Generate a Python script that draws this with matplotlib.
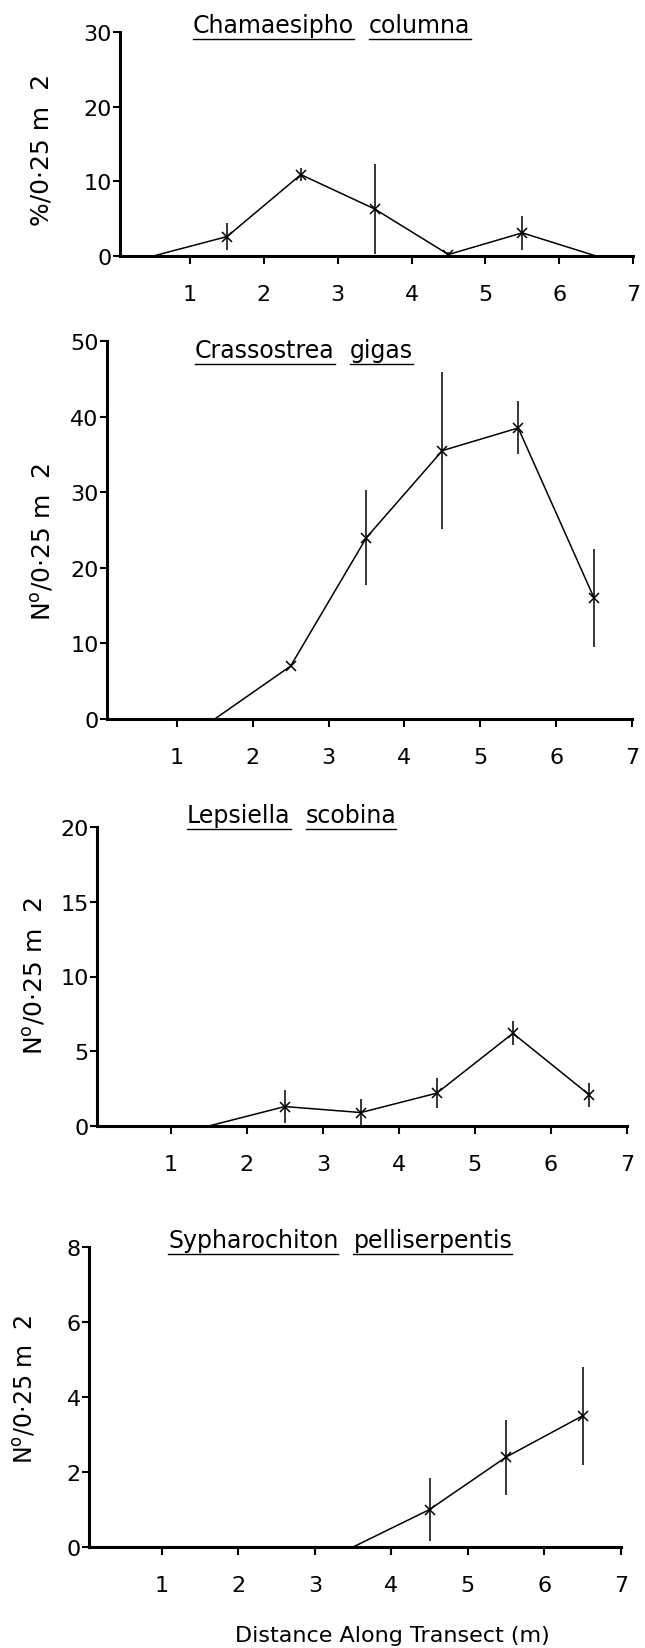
import matplotlib
matplotlib.use('Agg')
import matplotlib.pyplot as plt
from matplotlib.lines import Line2D

plt.rcParams['font.family'] = ['DejaVu Sans']

# data (quadrat midpoints along transect)
distance = [0.5, 1.5, 2.5, 3.5, 4.5, 5.5, 6.5]

chamaesipho = [0, 2.6, 10.9, 6.3, 0.2, 3.1, 0]
chamaesipho_err = [0, 1.8, 0.9, 6.0, 0.3, 2.3, 0]

crassostrea = [0, 0, 7.0, 24.0, 35.5, 38.5, 16.0]
crassostrea_err = [0, 0, 0, 6.3, 10.4, 3.5, 6.5]

lepsiella = [0, 0, 1.3, 0.9, 2.2, 6.2, 2.1]
lepsiella_err = [0, 0, 1.1, 0.9, 1.0, 0.8, 0.8]

sypharochiton = [0, 0, 0, 0, 1.0, 2.4, 3.5]
sypharochiton_err = [0, 0, 0, 0, 0.85, 1.0, 1.3]

species = [('Chamaesipho', 'columna'), ('Crassostrea', 'gigas'),
           ('Lepsiella', 'scobina'), ('Sypharochiton', 'pelliserpentis')]
values = [chamaesipho, crassostrea, lepsiella, sypharochiton]
errors = [chamaesipho_err, crassostrea_err, lepsiella_err, sypharochiton_err]
yticks_list = [[0, 10, 20, 30], [0, 10, 20, 30, 40, 50], [0, 5, 10, 15, 20], [0, 2, 4, 6, 8]]
ylabels = ['%/0·25 m  2'] + ['N$^\\mathregular{o}$/0·25 m  2'] * 3

# layout in pixels: axis left, right, zero line, top; x start of axis
boxes = [(120, 633, 257, 33, 0.05), (107, 632, 720, 342, 0.08),
         (97, 627, 1127, 828, 0.03), (89, 621, 1548, 1248, 0.05)]
title_pos = [(193, 33), (195, 358), (187, 823), (168, 1248)]
ylabel_pos = [(42, 150, 18), (42, 542, 18), (34, 976, 18), (24, 1389, 17)]

W, H = 645, 1649
fig = plt.figure(figsize=(W / 100, H / 100), dpi=100)

titles = []
for i in range(4):
    l, r, b, t, xmin = boxes[i]
    ax = fig.add_axes([l / W, 1 - b / H, (r - l) / W, (b - t) / H])
    vals, errs = values[i], errors[i]
    ax.plot(distance, vals, color='black', lw=1.1, zorder=3)
    pts = [(x, v, e) for x, v, e in zip(distance, vals, errs) if v > 0]
    ax.errorbar([p[0] for p in pts], [p[1] for p in pts], yerr=[p[2] for p in pts],
                fmt='x', color='black', ms=7, mew=1.1, elinewidth=1.1, capsize=0, zorder=3)
    ax.set_xlim(xmin, 7)
    ax.set_ylim(0, yticks_list[i][-1])
    ax.set_yticks(yticks_list[i])
    ax.set_xticks(range(1, 8))
    for s in ['top', 'right']:
        ax.spines[s].set_visible(False)
    for s in ['left', 'bottom']:
        ax.spines[s].set_linewidth(2.2)
    ax.tick_params(axis='x', direction='out', length=6, width=1.5, pad=14, labelsize=16)
    ax.tick_params(axis='y', direction='out', length=5, width=1.5, pad=1, labelsize=16)
    lx, ly, lfs = ylabel_pos[i]
    fig.text(lx / W, 1 - ly / H, ylabels[i], rotation=90, fontsize=lfs,
             ha='center', va='center')
    tx, ty = title_pos[i]
    t1 = fig.text(tx / W, 1 - ty / H, species[i][0], fontsize=17, va='baseline', ha='left')
    titles.append((t1, ty, species[i][1]))

fig.canvas.draw()
renderer = fig.canvas.get_renderer()
for t1, ty, w2 in titles:
    bb = t1.get_window_extent(renderer)
    t2 = fig.text((bb.x1 + 15) / W, 1 - ty / H, w2, fontsize=17, va='baseline', ha='left')
    bb2 = t2.get_window_extent(renderer)
    yline = 1 - (ty + 7) / H
    for bx in (bb, bb2):
        fig.add_artist(Line2D([bx.x0 / W, bx.x1 / W], [yline, yline], color='black', lw=1.0))

fig.text(392 / W, 1 - 1636 / H, 'Distance Along Transect (m)', fontsize=16, ha='center', va='center')

fig.savefig('out.png', dpi=100, facecolor='white')
